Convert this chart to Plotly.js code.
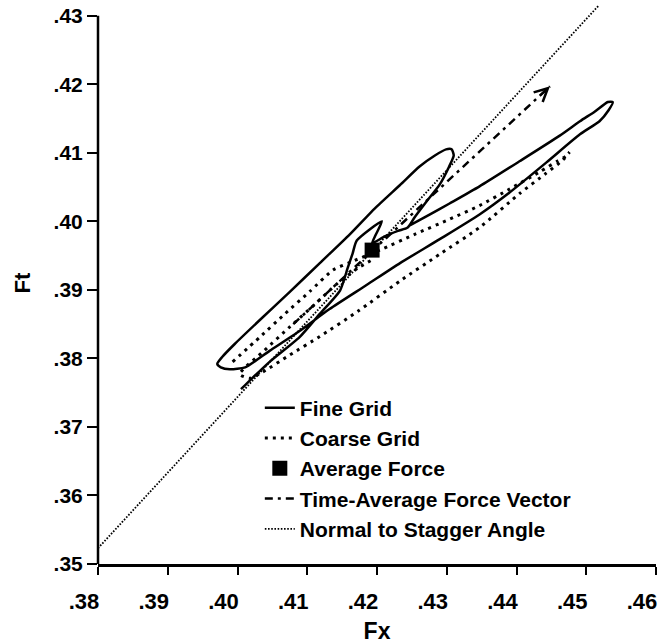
<!DOCTYPE html>
<html>
<head>
<meta charset="utf-8">
<script src="https://cdn.plot.ly/plotly-3.0.1.min.js"></script>
<style>html,body{margin:0;padding:0;background:#fff;}#chart{width:671px;height:644px;}</style>
</head>
<body>
<div id="chart"></div>
<script>
// Fine grid trace (Fx, Ft)
var fineX = [0.4005,0.4018,0.4046,0.4089,0.4118,0.4147,0.4158,0.4165,0.4171,
  0.4207,0.4198,0.4193,0.4211,0.4230,0.4244,
  0.4254,0.4271,0.4290,0.4303,0.4310,0.4307,0.4299,
  0.4283,0.4261,0.4233,0.4197,0.4161,0.4118,0.4075,0.4032,0.3996,0.3978,0.3971,0.3976,
  0.3989,0.4011,
  0.4046,0.4089,0.4132,0.4185,0.4233,0.4290,0.4347,0.4390,0.4443,0.4491,0.4519,0.4532,0.4538,
  0.4531,0.4512,0.4491,0.4462,0.4405,0.4347,0.4304,0.4276,0.4247];
var fineY = [0.3755,0.3768,0.3795,0.3831,0.3865,0.3899,0.3932,0.3953,0.3972,
  0.4000,0.3980,0.3968,0.3978,0.3986,0.3991,
  0.4006,0.4029,0.4054,0.4079,0.4096,0.4105,0.4105,
  0.4096,0.4080,0.4053,0.4019,0.3981,0.3939,0.3897,0.3856,0.3821,0.3802,0.3792,0.3787,
  0.3784,0.3787,
  0.3811,0.3840,0.3872,0.3907,0.3939,0.3974,0.4010,0.4042,0.4086,0.4127,0.4146,0.4162,0.4174,
  0.4174,0.4160,0.4146,0.4125,0.4088,0.4051,0.4026,0.4010,0.3994];

// Coarse grid trace
var coarseX = [0.3993,0.4032,0.4068,0.4104,0.4137,0.4161,
  0.4204,0.4254,0.4304,0.4347,0.4390,0.4433,0.4459,0.4471,0.4476,
  0.4466,0.4441,0.4405,0.4347,0.4290,0.4233,0.4173,0.4118,0.4075,0.4036,0.4018,
  0.4003,0.4039,0.4075,0.4111,0.4144,0.4173,0.4197];
var coarseY = [0.3795,0.3831,0.3865,0.3898,0.3929,0.3940,
  0.3958,0.3981,0.4003,0.4023,0.4047,0.4072,0.4088,0.4095,0.4101,
  0.4089,0.4069,0.4041,0.3991,0.3952,0.3913,0.3869,0.3832,0.3805,0.3780,0.3771,
  0.3777,0.3812,0.3846,0.3879,0.3910,0.3932,0.3946];

// Average force
var avgX = [0.4193];
var avgY = [0.3958];

// Time-average force vector (visible part)
var vectorX = [0.4080, 0.4448];
var vectorY = [0.3850, 0.4197];

// Normal to stagger angle
var normalX = [0.3800, 0.4518];
var normalY = [0.3523, 0.4315];

// Ticks
var xTickVals = [0.38,0.39,0.40,0.41,0.42,0.43,0.44,0.45,0.46];
var xTickText = ['.38','.39','.40','.41','.42','.43','.44','.45','.46'];
var yTickVals = [0.35,0.36,0.37,0.38,0.39,0.40,0.41,0.42,0.43];
var yTickText = ['.35','.36','.37','.38','.39','.40','.41','.42','.43'];

var FONT = 'Liberation Sans, Arial, Helvetica, sans-serif';

var traces = [
  {x: fineX, y: fineY, mode: 'lines', name: 'Fine Grid',
   line: {color: 'black', width: 2.5, shape: 'spline', smoothing: 0.6}},
  {x: coarseX, y: coarseY, mode: 'lines', name: 'Coarse Grid',
   line: {color: 'black', width: 3, dash: '3px,5px', shape: 'spline', smoothing: 0.6}},
  {x: avgX, y: avgY, mode: 'markers', name: 'Average Force',
   marker: {symbol: 'square', size: 15, color: 'black'}},
  {x: vectorX, y: vectorY, mode: 'lines', name: 'Time-Average Force Vector',
   line: {color: 'black', width: 2.5, dash: '8px,5px,3px,5px'}},
  {x: normalX, y: normalY, mode: 'lines', name: 'Normal to Stagger Angle',
   line: {color: 'black', width: 1.8, dash: '1.6px,1.6px'}}
];

var n = vectorX.length - 1;
var backX = vectorX[n] - 0.045 * (vectorX[n] - vectorX[0]);
var backY = vectorY[n] - 0.045 * (vectorY[n] - vectorY[0]);

var layout = {
  width: 671, height: 644,
  margin: {l: 98, r: 15, t: 2, b: 80},
  paper_bgcolor: 'white', plot_bgcolor: 'white',
  font: {family: FONT, color: 'black', size: 20, weight: 700},
  showlegend: true,
  legend: {x: 0.29, y: 0.314, xanchor: 'left', yanchor: 'top',
           bgcolor: 'rgba(0,0,0,0)', borderwidth: 0,
           font: {family: FONT, size: 21, weight: 700, color: 'black'}},
  xaxis: {range: [0.38, 0.46], tickvals: xTickVals, ticktext: xTickText,
          ticks: 'outside', ticklen: 8, tickwidth: 2, tickcolor: 'black',
          showline: true, linewidth: 3, linecolor: 'black',
          showgrid: false, zeroline: false,
          tickfont: {family: FONT, size: 22, weight: 700},
          ticklabelshift: -14, ticklabelstandoff: 8,
          title: {text: 'Fx', font: {family: FONT, size: 23, weight: 700}, standoff: 12}},
  yaxis: {range: [0.35, 0.432], tickvals: yTickVals, ticktext: yTickText,
          ticks: 'outside', ticklen: 10, tickwidth: 2, tickcolor: 'black',
          showline: false, showgrid: false, zeroline: false,
          tickfont: {family: FONT, size: 21, weight: 700},
          title: {text: 'Ft', font: {family: FONT, size: 22, weight: 700}, standoff: 16}},
  shapes: [{type: 'line', xref: 'paper', yref: 'y', x0: 0, x1: 0,
            y0: yTickVals[0], y1: yTickVals[yTickVals.length - 1],
            line: {color: 'black', width: 2.5}}],
  annotations: [{x: vectorX[n], y: vectorY[n], xref: 'x', yref: 'y',
                 ax: backX, ay: backY, axref: 'x', ayref: 'y',
                 showarrow: true, arrowhead: 5, arrowsize: 1.3, arrowwidth: 2,
                 arrowcolor: 'black', standoff: 0, text: ''}]
};

Plotly.newPlot('chart', traces, layout, {staticPlot: true, displayModeBar: false});
</script>
</body>
</html>
